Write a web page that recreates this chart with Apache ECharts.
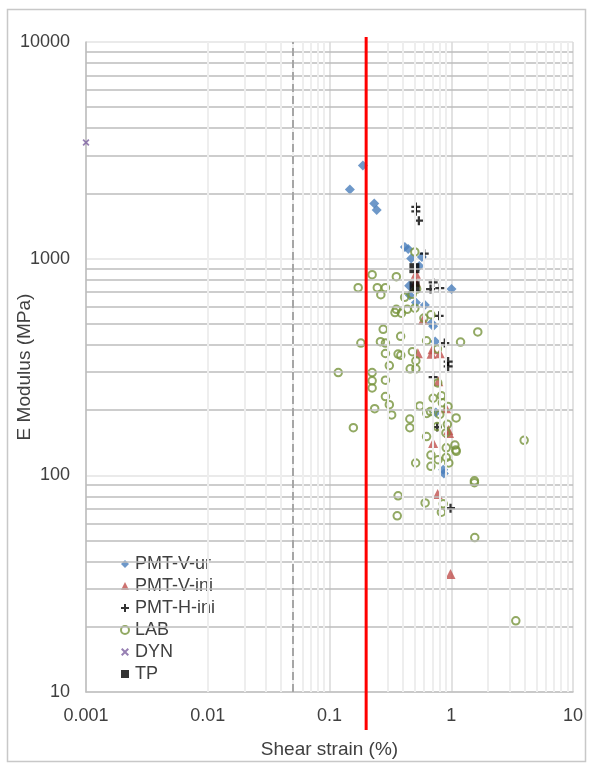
<!DOCTYPE html>
<html>
<head>
<meta charset="utf-8">
<script src="https://cdn.jsdelivr.net/npm/echarts@6/dist/echarts.min.js"></script>
<style>
  html, body { margin: 0; padding: 0; background: #fff; }
  #chart { width: 593px; height: 771px; }
</style>
</head>
<body>
<div id="chart"></div>
<script>
// Stiffness measurements: E modulus (MPa) against shear strain (%)
const pmtVurStrain  = [0.188, 0.147, 0.233, 0.244, 0.416, 0.443, 0.469, 0.574, 0.546, 0.451, 1.005, 0.457, 0.512, 0.607, 0.689, 0.710, 0.738, 0.748, 0.859, 0.870];
const pmtVurModulus = [2690, 2083, 1795, 1679, 1132, 1109, 1003, 1018, 925, 750, 724, 677, 628, 611, 505, 487, 415, 195, 106, 102];

const pmtViniStrain  = [0.512, 0.512, 0.587, 0.532, 0.689, 0.702, 0.805, 0.783, 0.908, 0.946, 0.960, 0.710, 0.773, 0.986];
const pmtViniModulus = [853, 783, 523, 366, 364, 382, 366, 272, 204, 162, 157, 141, 82, 35];

const pmtHiniStrain  = [0.512, 0.512, 0.542, 0.600, 0.710, 0.676, 0.805, 0.795, 0.885, 0.943, 0.943, 0.710, 0.766, 0.986];
const pmtHiniModulus = [1733, 1654, 1498, 1055, 777, 724, 732, 545, 408, 335, 318, 284, 167, 70.5];

const labStrain = [
  0.502, 0.224, 0.354, 0.172, 0.247, 0.288, 0.264, 0.414, 0.478, 0.520,
  0.502, 0.435, 0.354, 0.345, 0.390, 0.681, 0.596, 0.276, 1.652, 0.384,
  0.181, 0.262, 0.288, 0.627, 1.192, 0.288, 0.366, 0.385, 0.480, 0.770,
  0.512, 0.310, 0.460, 0.512, 0.118, 0.224, 0.224, 0.288, 0.224, 0.775,
  0.288, 0.830, 0.710, 0.310, 0.235, 0.552, 0.845, 0.940, 0.630, 0.675,
  0.805, 0.324, 1.097, 0.457, 0.157, 0.457, 0.766, 0.929, 0.904, 0.627,
  1.071, 1.090, 1.100, 0.910, 0.681, 0.780, 0.910, 0.955, 0.510, 0.681,
  3.970, 1.550, 1.550, 0.366, 0.360, 0.610, 0.859, 0.830, 1.560, 3.390
];
const labModulus = [
  1074, 844, 826, 735, 735, 735, 682, 663, 685, 724,
  591, 584, 584, 564, 560, 551, 532, 472, 459, 438,
  408, 414, 408, 418, 412, 365, 363, 358, 372, 383,
  338, 321, 310, 310, 298, 298, 273, 275, 253, 267,
  231, 233, 227, 212, 203, 209, 216, 208, 193, 197,
  191, 190, 184, 182, 166, 166, 168, 172, 157, 151,
  138, 131, 129, 134, 124, 118, 121, 114, 114, 110,
  145, 94.3, 92.5, 80.4, 65.0, 74.6, 73.9, 67.6, 51.6, 21.3
];

const dynStrain  = [0.001];
const dynModulus = [3435];

const tpStrain  = [0.498, 0.500];
const tpModulus = [904, 746];

// Reference strain levels
const redLineStrain  = 0.2;
const dashLineStrain = 0.05;

// Axis ranges and tick labels
const xTickValues = [0.001, 0.01, 0.1, 1, 10];
const xTickLabels = ['0.001', '0.01', '0.1', '1', '10'];
const yTickValues = [10, 100, 1000, 10000];
const yTickLabels = ['10', '100', '1000', '10000'];
const minorSteps = [2, 3, 4, 5, 6, 7, 8, 9];

const FONT = "'Liberation Sans', Arial, sans-serif";
const TEXT = '#404040';

function zip(xs, ys) { return xs.map((x, i) => [x, ys[i]]); }
function minorValues(decades) {
  const out = [];
  decades.forEach(d => minorSteps.forEach(k => out.push(+(d * k).toPrecision(6))));
  return out;
}
function labelFor(values, labels) {
  return v => {
    for (let i = 0; i < values.length; i++) {
      if (Math.abs(Math.log10(v) - Math.log10(values[i])) < 1e-6) return labels[i];
    }
    return '';
  };
}

const xMinor = minorValues(xTickValues.slice(0, -1));
const yMinor = minorValues(yTickValues.slice(0, -1));

const PLUS  = 'path://M3,0h2v3h3v2h-3v3h-2v-3h-3v-2h3z';
const CROSS = 'path://M0,1.4L1.4,0L4,2.6L6.6,0L8,1.4L5.4,4L8,6.6L6.6,8L4,5.4L1.4,8L0,6.6L2.6,4Z';

const chart = echarts.init(document.getElementById('chart'), null, { renderer: 'canvas' });

const option = {
  animation: false,
  backgroundColor: '#ffffff',
  textStyle: { fontFamily: FONT },
  grid: { left: 86, top: 42, width: 487, height: 650, containLabel: false, outerBoundsMode: 'none' },
  xAxis: {
    type: 'log', logBase: 10, min: 0.001, max: 10, interval: 1,
    name: 'Shear strain (%)', nameLocation: 'middle', nameGap: 48, nameMoveOverlap: false,
    nameTextStyle: { fontFamily: FONT, fontSize: 19, color: TEXT },
    axisLine: { show: true, lineStyle: { color: '#bfbfbf', width: 1.5 } },
    axisTick: { show: false },
    axisLabel: { fontFamily: FONT, fontSize: 18, color: TEXT, margin: 15, formatter: labelFor(xTickValues, xTickLabels) },
    splitLine: { show: true, lineStyle: { color: '#d9d9d9', width: 1.5 } }
  },
  yAxis: {
    type: 'log', logBase: 10, min: 10, max: 10000, interval: 1,
    name: 'E Modulus (MPa)', nameLocation: 'middle', nameGap: 52, nameRotate: 90, nameMoveOverlap: false,
    nameTextStyle: { fontFamily: FONT, fontSize: 19, color: TEXT },
    axisLine: { show: true, lineStyle: { color: '#bfbfbf', width: 1.5 } },
    axisTick: { show: false },
    axisLabel: { fontFamily: FONT, fontSize: 18, color: TEXT, margin: 16, formatter: labelFor(yTickValues, yTickLabels) },
    splitLine: { show: true, lineStyle: { color: '#e3e3e3', width: 1.5 } }
  },
  legend: {
    orient: 'vertical', left: 115, top: 550,
    itemWidth: 8, itemHeight: 8, itemGap: 4,
    textStyle: { fontFamily: FONT, fontSize: 18, color: TEXT, lineHeight: 18, padding: [0, 0, 0, 1] },
    data: ['PMT-V-ur', 'PMT-V-ini', 'PMT-H-ini', 'LAB', 'DYN', 'TP']
  },
  series: [
    {
      name: 'gridMinorY', type: 'scatter', data: [], silent: true, z: 1,
      markLine: {
        silent: true, symbol: ['none', 'none'], label: { show: false }, animation: false,
        lineStyle: { color: '#bdbdbd', width: 1.5, type: 'solid' },
        data: yMinor.map(v => ({ yAxis: v }))
      }
    },
    {
      name: 'gridMinorX', type: 'scatter', data: [], silent: true, z: 1,
      markLine: {
        silent: true, symbol: ['none', 'none'], label: { show: false }, animation: false,
        lineStyle: { color: '#eeeeee', width: 2, type: 'solid' },
        data: xMinor.map(v => ({ xAxis: v }))
      }
    },
    {
      name: 'strainLimit', type: 'scatter', data: [], silent: true, z: 2,
      markLine: {
        silent: true, symbol: ['none', 'none'], label: { show: false }, animation: false,
        lineStyle: { color: '#a6a6a6', width: 2, type: [8, 4] },
        data: [{ xAxis: dashLineStrain }]
      }
    },
    {
      name: 'PMT-V-ur', type: 'scatter', z: 3, symbol: 'diamond', symbolSize: 10,
      itemStyle: { color: '#4a7ebb' }, data: zip(pmtVurStrain, pmtVurModulus)
    },
    {
      name: 'PMT-V-ini', type: 'scatter', z: 3, symbol: 'triangle', symbolSize: 10,
      itemStyle: { color: '#c0504d' }, data: zip(pmtViniStrain, pmtViniModulus)
    },
    {
      name: 'PMT-H-ini', type: 'scatter', z: 3, symbol: PLUS, symbolSize: 9,
      itemStyle: { color: '#000000' }, data: zip(pmtHiniStrain, pmtHiniModulus)
    },
    {
      name: 'LAB', type: 'scatter', z: 3, symbol: 'circle', symbolSize: 7.5,
      itemStyle: { color: 'rgba(255,255,255,0)', borderColor: '#77933c', borderWidth: 2 },
      data: zip(labStrain, labModulus)
    },
    {
      name: 'DYN', type: 'scatter', z: 3, symbol: CROSS, symbolSize: 7,
      itemStyle: { color: '#7d60a0' }, data: zip(dynStrain, dynModulus)
    },
    {
      name: 'TP', type: 'scatter', z: 3, symbol: 'rect', symbolSize: 10,
      itemStyle: { color: '#000000' }, data: zip(tpStrain, tpModulus)
    }
  ]
};

chart.setOption(option);

// Chart frame and the red reference line, which runs past the plot edges
const xRed = chart.convertToPixel({ xAxisIndex: 0 }, redLineStrain);
const yTop = chart.convertToPixel({ yAxisIndex: 0 }, yTickValues[yTickValues.length - 1]);
const yBottom = chart.convertToPixel({ yAxisIndex: 0 }, yTickValues[0]);

chart.setOption({
  graphic: [
    {
      type: 'rect', silent: true, z: 0,
      shape: { x: 7.5, y: 9.5, width: 578, height: 752 },
      style: { fill: 'none', stroke: '#c8c8c8', lineWidth: 1.5 }
    },
    {
      type: 'line', silent: true, z: 50,
      shape: { x1: xRed, y1: yTop - 5, x2: xRed, y2: yBottom + 38 },
      style: { stroke: '#ff0000', lineWidth: 3 }
    }
  ]
});
</script>
</body>
</html>
